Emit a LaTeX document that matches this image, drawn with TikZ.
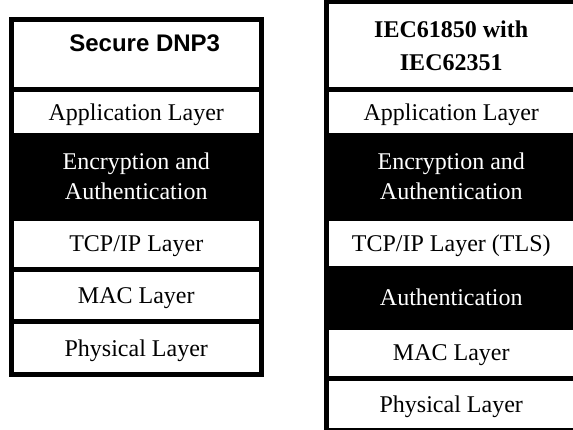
\documentclass[tikz,border=0pt]{standalone}
\usepackage{fontspec}
\setmainfont{Liberation Serif}
\newfontfamily\headsans{Liberation Sans}
\usetikzlibrary{positioning}

\tikzset{
    layer/.style={draw=black, fill=white, line width=2.5pt, outer sep=0pt, inner sep=0pt,
        minimum width=125.25pt, align=center, text depth=0pt, font=\fontsize{12}{15}\selectfont},
    darklayer/.style={layer, fill=black, text=white},
}

\begin{document}
\begin{tikzpicture}[x=0.5pt, y=-0.5pt]
    \useasboundingbox (0,0) rectangle (573,429);
    \clip (0,0) rectangle (573,429);

    % Secure DNP3 stack
    \node[layer, minimum height=35pt] (dnp) at (136.25,54)
        {\headsans\bfseries\hspace*{8.5pt}\raisebox{5.5pt}[\height][\depth]{Secure DNP3}};
    \node[layer, minimum height=23pt, below=0pt of dnp] (dnpapp) {Application Layer};
    \node[darklayer, minimum height=41.5pt, below=0pt of dnpapp] (dnpenc) {Encryption and\\Authentication};
    \node[layer, minimum height=25.5pt, below=0pt of dnpenc] (dnptcp) {TCP/IP Layer};
    \node[layer, minimum height=26.25pt, below=0pt of dnptcp] (dnpmac) {MAC Layer};
    \node[layer, minimum height=26.25pt, below=0pt of dnpmac] (dnpphy) {Physical Layer};

    % IEC61850 / IEC62351 stack
    \node[layer, minimum height=43.75pt, font=\fontsize{12}{16.5}\selectfont\bfseries] (iec) at (451.25,45.25)
        {IEC61850 with\\IEC62351};
    \node[layer, minimum height=23pt, below=0pt of iec] (iecapp) {Application Layer};
    \node[darklayer, minimum height=41.5pt, below=0pt of iecapp] (iecenc) {Encryption and\\Authentication};
    \node[layer, minimum height=25pt, below=0pt of iecenc] (iectcp) {TCP/IP Layer (TLS)};
    \node[darklayer, minimum height=29.5pt, below=0pt of iectcp] (iecauth) {Authentication};
    \node[layer, minimum height=25.75pt, below=0pt of iecauth] (iecmac) {MAC Layer};
    \node[layer, minimum height=25.75pt, below=0pt of iecmac] (iecphy) {Physical Layer};

\end{tikzpicture}
\end{document}
